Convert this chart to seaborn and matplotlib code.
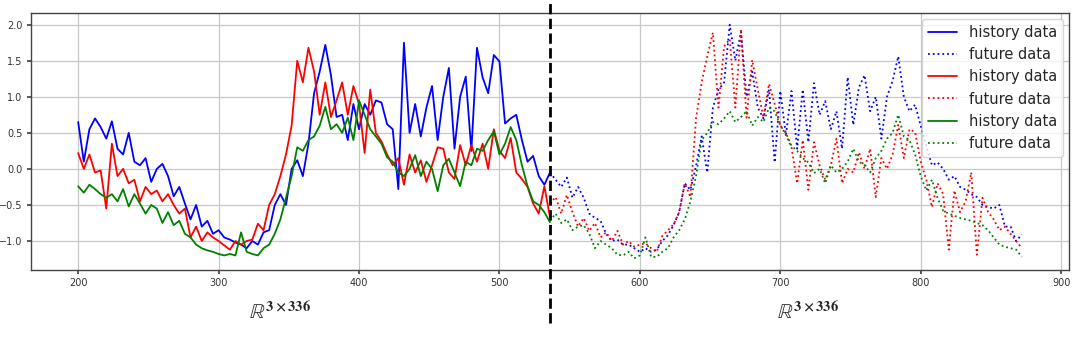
import numpy as np
import pandas as pd
import matplotlib
matplotlib.use("Agg")
import matplotlib.pyplot as plt
import seaborn as sns

split_x = 536
hist_x = list(range(200, 537, 4))   # history time steps
fut_x = list(range(536, 873, 4))    # future time steps

blue_hist = [0.65, 0.10, 0.55, 0.70, 0.58, 0.42, 0.66, 0.28, 0.20, 0.50,
             0.10, 0.05, 0.15, -0.18, 0.00, 0.07, -0.10, -0.38, -0.25, -0.48,
             -0.70, -0.50, -0.80, -0.72, -0.90, -0.85, -0.95, -0.98, -1.02, -1.05,
             -1.10, -1.00, -1.05, -0.88, -0.85, -0.50, -0.35, -0.50, 0.00, 0.12,
             -0.10, 0.35, 1.05, 1.35, 1.72, 1.30, 0.72, 0.75, 0.40, 0.90,
             0.55, 0.90, 0.75, 0.95, 0.92, 0.62, 0.55, -0.28, 1.75, 0.50,
             0.90, 0.45, 0.85, 1.15, 0.40, 1.00, 1.40, 0.28, 1.00, 1.28,
             0.25, 1.68, 1.27, 1.05, 1.58, 1.49, 0.63, 0.70, 0.75, 0.40,
             0.10, 0.18, -0.10, -0.22, -0.05]
red_hist = [0.22, 0.00, 0.20, -0.05, -0.02, -0.55, 0.35, -0.10, 0.00, -0.20,
            -0.15, -0.45, -0.25, -0.35, -0.30, -0.45, -0.35, -0.50, -0.62, -0.55,
            -0.95, -0.80, -1.00, -0.88, -0.95, -1.00, -1.06, -1.12, -1.00, -1.05,
            -1.00, -0.98, -0.76, -0.85, -0.50, -0.35, -0.10, 0.20, 0.60, 1.50,
            1.20, 1.68, 1.35, 0.75, 1.20, 0.72, 0.95, 1.20, 0.75, 1.15,
            0.90, 0.22, 1.10, 0.50, 0.38, 0.20, 0.05, 0.15, -0.22, 0.20,
            -0.05, 0.12, -0.18, 0.05, 0.30, 0.28, -0.05, -0.14, 0.33, 0.05,
            0.33, 0.10, 0.35, 0.00, 0.55, 0.25, 0.15, 0.43, -0.05, -0.14,
            -0.25, -0.48, -0.62, -0.24, -0.67]
green_hist = [-0.24, -0.33, -0.22, -0.28, -0.35, -0.40, -0.35, -0.45, -0.28, -0.52,
              -0.35, -0.48, -0.62, -0.50, -0.55, -0.75, -0.60, -0.78, -0.72, -0.90,
              -0.95, -1.05, -1.10, -1.13, -1.15, -1.18, -1.20, -1.18, -1.20, -0.88,
              -1.15, -1.18, -1.20, -1.10, -1.05, -0.90, -0.70, -0.40, -0.10, 0.30,
              0.25, 0.40, 0.45, 0.60, 0.86, 0.55, 0.62, 0.50, 0.71, 0.40,
              0.95, 0.75, 0.55, 0.45, 0.35, 0.16, 0.10, -0.05, -0.10, 0.00,
              0.19, -0.10, 0.10, 0.00, -0.31, 0.05, 0.14, -0.05, -0.24, 0.10,
              0.05, 0.28, 0.25, 0.40, 0.52, 0.20, 0.35, 0.58, 0.40, 0.05,
              -0.24, -0.45, -0.50, -0.60, -0.74]

blue_fut = [-0.05, -0.15, -0.25, -0.12, -0.40, -0.25, -0.40, -0.62, -0.68, -0.72,
            -0.90, -1.00, -0.98, -1.05, -1.05, -1.10, -1.15, -1.10, -1.15, -1.12,
            -1.00, -0.92, -0.78, -0.60, -0.20, -0.29, 0.04, 0.45, -0.05, 0.85,
            1.10, 1.20, 2.00, 1.50, 1.90, 1.00, 1.35, 0.85, 0.70, 1.10,
            0.09, 1.08, 0.47, 1.08, 0.28, 1.10, 0.37, 1.19, 0.75, 0.94,
            0.55, 0.80, 0.28, 1.27, 0.61, 1.13, 1.30, 0.80, 1.00, 0.42,
            1.00, 1.22, 1.56, 1.00, 0.80, 0.89, 0.60, 0.32, 0.05, 0.09,
            0.00, -0.15, -0.10, -0.25, -0.29, -0.35, -0.39, -0.50, -0.53, -0.55,
            -0.50, -0.80, -0.80, -1.00, -0.91]
red_fut = [-0.48, -0.39, -0.62, -0.36, -0.60, -0.80, -0.68, -0.86, -0.75, -0.95,
           -0.88, -1.00, -0.86, -1.05, -1.00, -1.08, -1.05, -1.03, -1.10, -1.15,
           -0.93, -0.85, -0.77, -0.60, -0.20, -0.39, 0.70, 1.20, 1.56, 1.89,
           0.85, 1.70, 1.80, 0.85, 1.94, 0.71, 1.51, 1.10, 0.71, 1.18,
           0.90, 0.61, 0.47, 0.30, -0.20, 0.40, -0.29, 0.37, 0.05, -0.15,
           0.05, 0.42, -0.20, 0.00, -0.05, 0.23, 0.00, 0.28, -0.39, 0.15,
           0.00, 0.20, 0.61, 0.15, 0.55, 0.51, 0.10, -0.15, -0.53, -0.20,
           -0.35, -1.12, -0.30, -0.60, -0.45, -0.05, -1.19, -0.40, -0.60, -0.70,
           -0.85, -0.80, -0.90, -1.00, -1.10]
green_fut = [-0.72, -0.62, -0.75, -0.70, -0.85, -0.80, -0.78, -0.90, -1.10, -1.00,
             -1.05, -1.10, -1.19, -1.20, -1.15, -1.24, -1.20, -0.95, -1.22, -1.22,
             -1.15, -1.10, -0.95, -0.85, -0.70, -0.45, -0.10, 0.40, 0.50, 0.65,
             0.62, 0.70, 0.80, 0.65, 0.72, 0.80, 0.60, 0.72, 0.65, 0.85,
             0.80, 0.60, 0.50, 0.32, 0.25, 0.15, 0.09, -0.06, 0.00, -0.20,
             0.05, -0.05, 0.00, 0.10, 0.28, 0.10, 0.05, -0.05, 0.15, 0.25,
             0.42, 0.50, 0.75, 0.45, 0.40, 0.20, -0.10, -0.30, -0.15, -0.40,
             -0.58, -0.62, -0.65, -0.68, -0.70, -0.72, -0.75, -0.78, -0.85, -0.95,
             -1.05, -1.08, -1.10, -1.12, -1.22]

colors = ["blue", "red", "green"]
hist_series = [blue_hist, red_hist, green_hist]
fut_series = [blue_fut, red_fut, green_fut]
hist_label = "history data"
fut_label = "future data"
dim_label = r"$\mathbb{R}^{\mathbf{3\times336}}$"

# ---------------- style ----------------
sns.set_theme(style="whitegrid")
plt.rcParams.update({
    "font.family": ["DejaVu Sans"],
    "mathtext.fontset": "stix",
    "axes.edgecolor": "#444444",
    "axes.linewidth": 1.0,
    "grid.color": "#c8c8c8",
    "grid.linewidth": 0.9,
    "xtick.bottom": True,
    "ytick.left": True,
    "xtick.major.size": 3,
    "ytick.major.size": 3,
    "xtick.color": "#333333",
    "ytick.color": "#333333",
    "xtick.labelsize": 7,
    "ytick.labelsize": 7,
})

fig = plt.figure(figsize=(10.8, 3.38), dpi=100)
ax = fig.add_axes([0.0287, 0.2012, 0.9611, 0.7603])

for c, h, f in zip(colors, hist_series, fut_series):
    sns.lineplot(x=hist_x, y=h, color=c, linewidth=1.3, ax=ax, label=hist_label)
    sns.lineplot(x=fut_x, y=f, color=c, linewidth=1.3, linestyle=":", ax=ax,
                 label=fut_label)

ax.set_xticks([200, 300, 400, 500, 600, 700, 800, 900])
ax.set_yticks([-1.0, -0.5, 0.0, 0.5, 1.0, 1.5, 2.0])
ax.set_xlabel("")
ax.set_ylabel("")
ax.tick_params(axis="both", pad=3, length=3, color="#444444")

ax.legend(loc="upper right", fontsize=10.5, framealpha=0.8, borderaxespad=0.4,
          handlelength=2.0, labelspacing=0.5)

# split line crossing the whole figure height
ax.axvline(split_x, ymin=-0.205, ymax=1.06, color="black", linestyle="--",
           linewidth=2.0, clip_on=False, zorder=5)

fig.text(0.259, 0.075, dim_label, ha="center", va="center", fontsize=15,
         fontweight="bold")
fig.text(0.748, 0.075, dim_label, ha="center", va="center", fontsize=15,
         fontweight="bold")

fig.savefig("out.png", dpi=100)
